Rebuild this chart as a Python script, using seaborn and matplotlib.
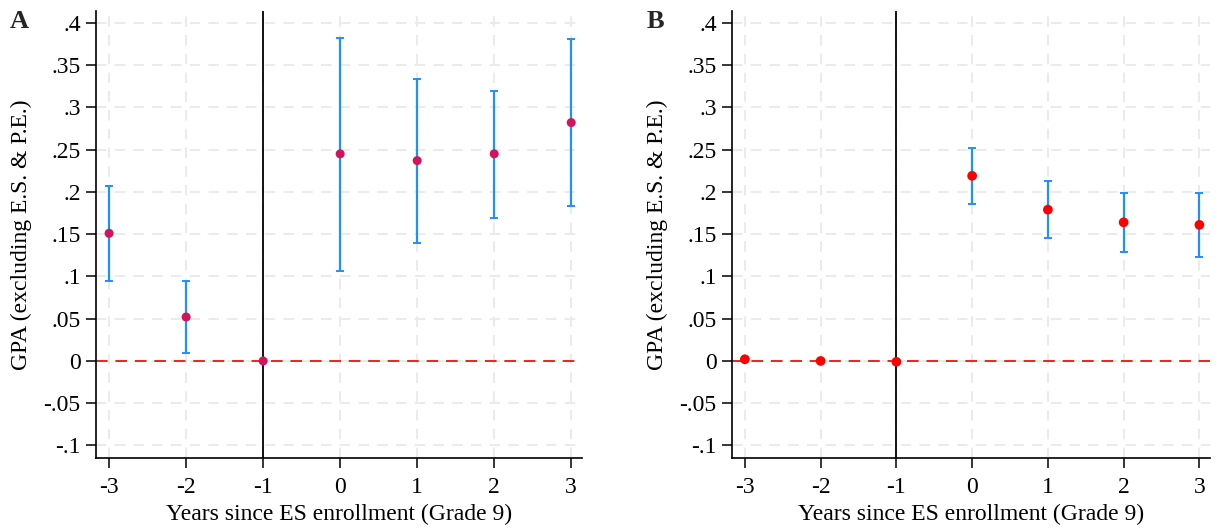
import numpy as np
import pandas as pd
import matplotlib
matplotlib.use("Agg")
import matplotlib.pyplot as plt
import seaborn as sns

# ---- data ----
years = [-3, -2, -1, 0, 1, 2, 3]
coef_a = [0.151, 0.052, 0.0, 0.245, 0.237, 0.245, 0.282]
lo_a = [0.095, 0.010, np.nan, 0.107, 0.140, 0.169, 0.183]
hi_a = [0.207, 0.094, np.nan, 0.382, 0.334, 0.319, 0.381]

coef_b = [0.002, 0.0, -0.001, 0.219, 0.179, 0.164, 0.161]
lo_b = [np.nan, np.nan, np.nan, 0.186, 0.146, 0.129, 0.123]
hi_b = [np.nan, np.nan, np.nan, 0.252, 0.213, 0.199, 0.199]

yticks = [-0.1, -0.05, 0, 0.05, 0.1, 0.15, 0.2, 0.25, 0.3, 0.35, 0.4]
ytick_labels = ["-.1", "-.05", "0", ".05", ".1", ".15", ".2", ".25", ".3", ".35", ".4"]
xticks = [-3, -2, -1, 0, 1, 2, 3]
xtick_labels = ["-3", "-2", "-1", "0", "1", "2", "3"]
panel_labels = ["A", "B"]
xlabel = "Years since ES enrollment (Grade 9)"
ylabel = "GPA (excluding E.S. & P.E.)"

sns.set_theme(style="white")
plt.rcParams["font.family"] = ["Liberation Serif", "DejaVu Serif"]
plt.rcParams["axes.linewidth"] = 1.2

fig = plt.figure(figsize=(12.22, 5.29), dpi=100)
ax_a = fig.add_axes([96 / 1222, 1 - 458 / 529, (582 - 96) / 1222, (458 - 11) / 529])
ax_b = fig.add_axes([732 / 1222, 1 - 458 / 529, (1210 - 732) / 1222, (458 - 11) / 529])

panels = [
    (ax_a, coef_a, lo_a, hi_a, "#D4145A", 6.5),
    (ax_b, coef_b, lo_b, hi_b, "#FF0000", 7.0),
]

for (ax, coef, lo, hi, pcol, msize), lab in zip(panels, panel_labels):
    df = pd.DataFrame({"year": years, "coef": coef, "lo": lo, "hi": hi})
    ax.set_xlim(-3.17, 3.14)
    ax.set_ylim(-0.1148, 0.414)
    ax.set_axisbelow(True)
    ax.grid(True, color="#EBEBEB", linestyle=(0, (5, 4)), linewidth=1.5)
    ax.axhline(0, color="#EE2222", linestyle=(0, (6, 4)), linewidth=1.4, zorder=2)
    ax.axvline(-1, color="black", linewidth=1.3, zorder=2)
    m = df["lo"].notna()
    ax.errorbar(df.loc[m, "year"], df.loc[m, "coef"],
                yerr=[df.loc[m, "coef"] - df.loc[m, "lo"], df.loc[m, "hi"] - df.loc[m, "coef"]],
                fmt="none", ecolor="#1E90FF", elinewidth=1.6, capsize=2.6, capthick=1.4, zorder=3)
    sns.scatterplot(data=df, x="year", y="coef", ax=ax, color=pcol, s=msize ** 2,
                    edgecolor="none", zorder=4, legend=False)
    ax.set_yticks(yticks)
    ax.set_yticklabels(ytick_labels)
    ax.set_xticks(xticks)
    ax.set_xticklabels(xtick_labels)
    ax.tick_params(axis="both", which="major", direction="out", length=7, width=1.1,
                   labelsize=17, colors="black", left=True, bottom=True)
    ax.tick_params(axis="x", pad=7)
    ax.tick_params(axis="y", pad=4)
    for s in ["top", "right"]:
        ax.spines[s].set_visible(False)
    for s in ["left", "bottom"]:
        ax.spines[s].set_color("black")
    ax.set_xlabel(xlabel, fontsize=17, color="black", labelpad=4)
    ax.set_ylabel(ylabel, fontsize=17, color="black", labelpad=8)

fig.text(10 / 1222, 1 - 22 / 529, panel_labels[0], fontsize=19, fontweight="bold",
         ha="left", va="center")
fig.text(647 / 1222, 1 - 22 / 529, panel_labels[1], fontsize=19, fontweight="bold",
         ha="left", va="center")

fig.savefig("out.png", dpi=100)
